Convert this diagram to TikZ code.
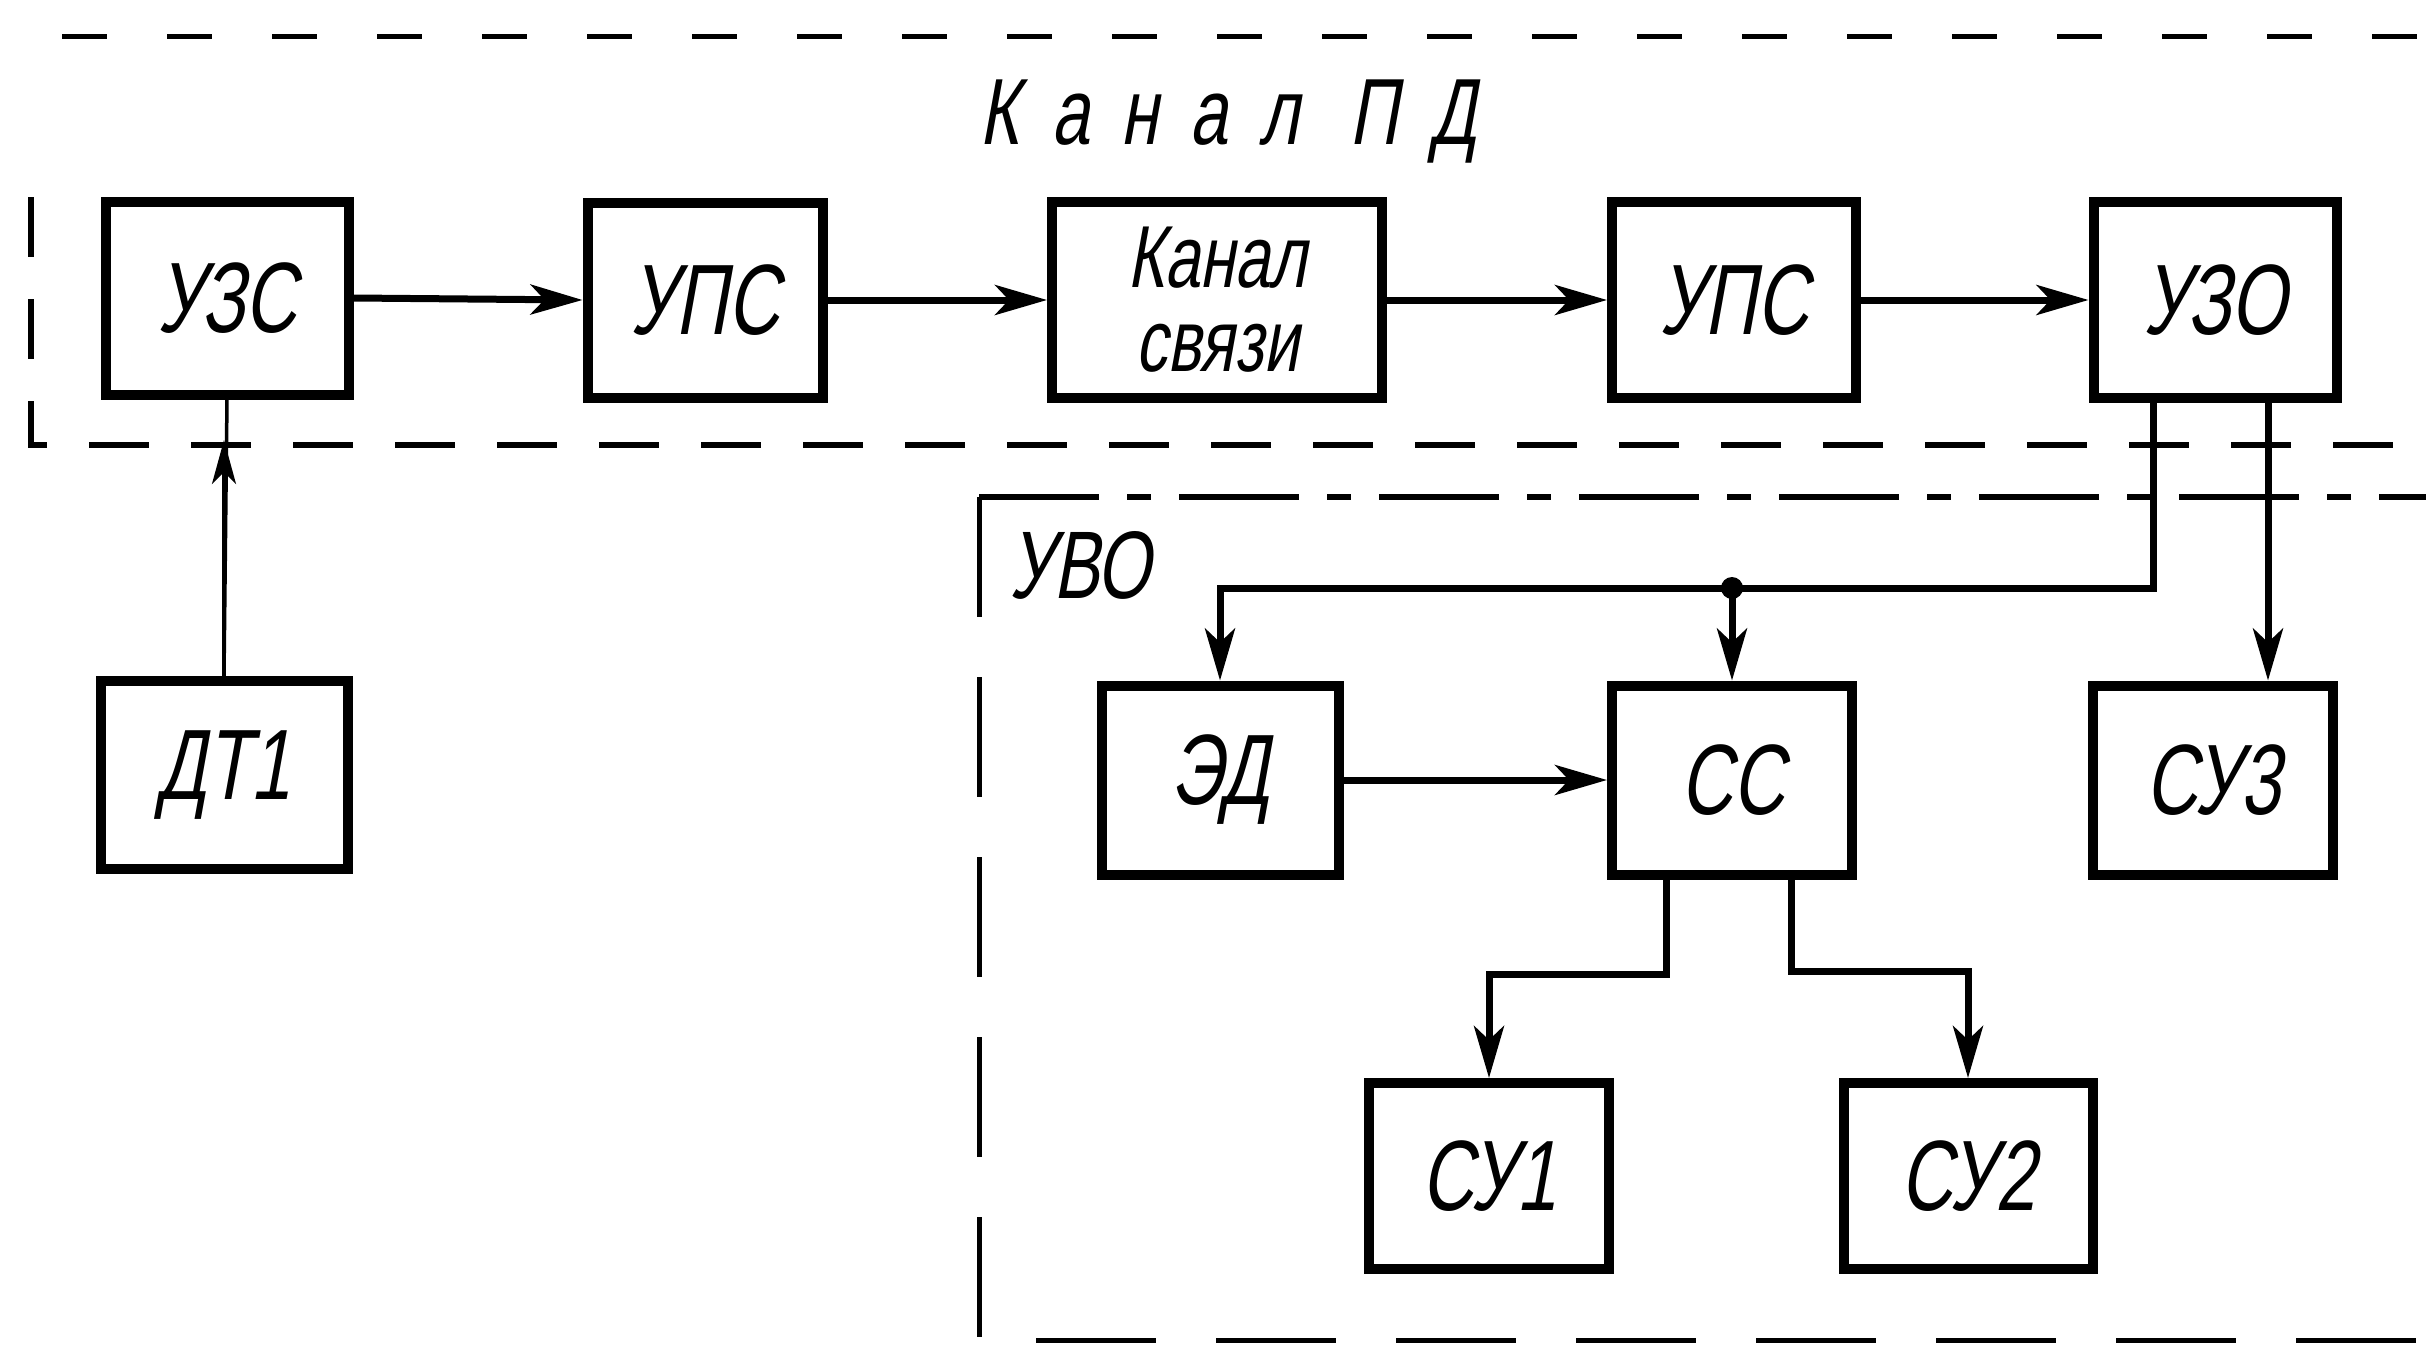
\documentclass[tikz,border=0pt]{standalone}
\usepackage{fontspec}
\setmainfont{Liberation Sans}[FakeSlant=0.18, FakeStretch=0.72]
\usetikzlibrary{arrows.meta,calc}
\begin{document}
\begin{tikzpicture}[x=1pt,y=-1pt,
  blk/.style={draw, line width=10pt, minimum width=240pt, minimum height=190pt, inner sep=0pt,
    font=\fontsize{100}{110}\selectfont},
  tip/.style={-{Stealth[length=52pt,width=30pt,inset=14pt]}},
  conn/.style={line width=7pt, tip},
  thinconn/.style={line width=3.5pt},
  dashA/.style={line width=5pt, dash pattern=on 45pt off 60pt},
  dashB/.style={line width=6pt, dash pattern=on 60pt off 42pt},
  dashC/.style={line width=6pt, dash pattern=on 120pt off 28pt on 24pt off 28pt},
  dashD/.style={line width=5pt, dash pattern=on 120pt off 60pt},
  lbl/.style={font=\fontsize{96}{106}\selectfont}
]
\useasboundingbox (0,0) rectangle (2426,1346);

% enclosures
\draw[dashA] (62,37) -- (2426,37);
\draw[dashB] (31,197) -- (31,445) -- (2426,445);
\draw[dashC] (979,497) -- (2426,497);
\draw[dashD] (979,497) -- (979,1340) -- (2426,1340);

\node[lbl, font=\fontsize{94}{100}\selectfont\addfontfeature{LetterSpace=34}] (title) at (1228,122) {Канал ПД};
\node[lbl] (uvo) at (1080,565) {УВО};

% blocks
\node[blk, minimum width=243pt, minimum height=193pt] (uzs) at (227,298) {УЗС};
\node[blk, minimum width=235pt, minimum height=195pt] (ups1) at (705,300) {УПС};
\node[blk, minimum width=330pt, minimum height=196pt, align=center, font=\fontsize{88}{80}\selectfont] (kan) at (1217,300) {Канал\\[4pt]связи};
\node[blk, minimum width=244pt, minimum height=196pt] (ups2) at (1734,300) {УПС};
\node[blk, minimum width=243pt, minimum height=196pt] (uzo) at (2215,300) {УЗО};
\node[blk, minimum width=247pt, minimum height=188pt] (dt1) at (224,775) {ДТ1};
\node[blk, minimum width=237pt, minimum height=189pt] (ed) at (1220,780) {ЭД};
\node[blk, minimum width=240pt, minimum height=189pt] (cc) at (1732,780) {СС};
\node[blk, minimum width=240pt, minimum height=189pt] (su3) at (2213,780) {СУ3};
\node[blk, minimum width=240pt, minimum height=186pt] (su1) at (1489,1176) {СУ1};
\node[blk, minimum width=249pt, minimum height=186pt] (su2) at (1968,1176) {СУ2};

% row 1 connectors
\draw[conn] (uzs.east) -- (ups1.west);
\draw[conn] (ups1.east) -- (kan.west);
\draw[conn] (kan.east) -- (ups2.west);
\draw[conn] (ups2.east) -- (uzo.west);

% DT1 -> UZS
\coordinate (cross) at (224,440);
\draw[thinconn] (dt1.north) -- (uzs.south);
\draw[thinconn, -{Stealth[length=44pt,width=24pt,inset=12pt]}] (dt1.north) -- (cross);

% UZO distribution
\coordinate (uzoL) at ([xshift=-62pt]uzo.south);
\coordinate (uzoR) at ([xshift=53pt]uzo.south);
\coordinate (j) at (1732,588);
\draw[conn] (uzoL) |- (j) -| (ed.north);
\draw[conn] (j) -- (cc.north);
\fill (j) circle (11pt);
\draw[conn] (uzoR) -- (uzoR |- su3.north);

% row 2
\draw[conn] (ed.east) -- (cc.west);
\draw[conn] ([xshift=-66pt]cc.south) -- ++(0,95) -| (su1.north);
\draw[conn] ([xshift=59pt]cc.south) -- ++(0,92) -| (su2.north);
\end{tikzpicture}
\end{document}
